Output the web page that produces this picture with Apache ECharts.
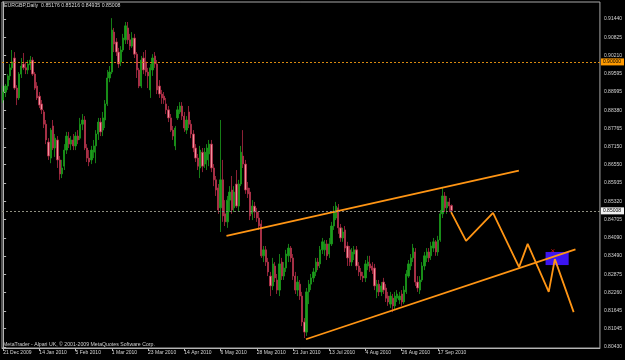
<!DOCTYPE html>
<html>
<head>
<meta charset="utf-8">
<script src="https://cdn.jsdelivr.net/npm/echarts@6.0.0/dist/echarts.min.js"></script>
<style>
  html, body { margin: 0; padding: 0; background: #000; }
  #chart { width: 625px; height: 360px; }
</style>
</head>
<body>
<div id="chart"></div>
<script>
// bottom axis labels, one every 16 bars
const dateLabels = ['21 Dec 2009', '14 Jan 2010', '5 Feb 2010', '1 Mar 2010', '23 Mar 2010', '14 Apr 2010',
  '6 May 2010', '28 May 2010', '21 Jun 2010', '13 Jul 2010', '4 Aug 2010', '26 Aug 2010', '17 Sep 2010'];

// right axis price labels
const priceTicks = [0.91440, 0.90825, 0.90210, 0.89595, 0.88995, 0.88380, 0.87765, 0.87150, 0.86550, 0.85935,
  0.85320, 0.84705, 0.84090, 0.83490, 0.82875, 0.82260, 0.81645, 0.81045, 0.80430];

// daily bars: [open, close, low, high]
const candles = [
  [.8872,.8899,.8862,.8919],[.8899,.8919,.8882,.8926],[.8919,.8953,.8906,.8959],[.8953,.8980,.8939,.8993],
  [.8980,.9000,.8973,.9040],[.9013,.8912,.8906,.9033],[.8912,.8879,.8855,.8922],[.8879,.8959,.8872,.8966],
  [.8959,.8986,.8946,.9013],[.8993,.8980,.8973,.9030],[.8980,.8973,.8959,.9000],[.8973,.8993,.8959,.9006],
  [.8990,.9006,.8973,.9020],[.9006,.8959,.8953,.9016],[.8959,.8912,.8906,.8966],[.8919,.8879,.8872,.8932],
  [.8885,.8855,.8845,.8899],[.8859,.8839,.8825,.8872],[.8832,.8791,.8778,.8839],[.8791,.8738,.8724,.8805],
  [.8731,.8684,.8671,.8744],[.8677,.8771,.8660,.8778],[.8785,.8711,.8704,.8805],[.8711,.8744,.8681,.8758],
  [.8738,.8671,.8644,.8751],[.8671,.8624,.8604,.8684],[.8624,.8644,.8610,.8671],[.8650,.8704,.8637,.8724],
  [.8704,.8751,.8691,.8765],[.8744,.8724,.8711,.8765],[.8724,.8738,.8704,.8751],[.8738,.8718,.8704,.8758],
  [.8718,.8751,.8704,.8765],[.8751,.8738,.8724,.8771],[.8744,.8791,.8738,.8812],[.8791,.8805,.8771,.8825],
  [.8805,.8711,.8704,.8818],[.8711,.8677,.8664,.8724],[.8677,.8664,.8650,.8704],[.8671,.8704,.8657,.8718],
  [.8697,.8718,.8677,.8738],[.8718,.8758,.8660,.8771],[.8758,.8798,.8738,.8812],[.8798,.8765,.8751,.8812],
  [.8771,.8812,.8751,.8832],[.8805,.8859,.8778,.8872],[.8859,.8946,.8852,.8973],[.8946,.8966,.8932,.8986],
  [.8966,.9107,.8959,.9147],[.9100,.9060,.9033,.9114],[.9067,.9033,.9020,.9080],[.9033,.8993,.8980,.9047],
  [.9000,.9040,.8986,.9053],[.9040,.9080,.9033,.9094],[.9074,.9121,.9060,.9134],[.9114,.9074,.9060,.9134],
  [.9074,.9053,.9040,.9094],[.9053,.9080,.9047,.9100],[.9080,.9026,.9013,.9094],[.9026,.8973,.8946,.9033],
  [.8973,.8919,.8912,.8980],[.8919,.9006,.8912,.9020],[.9013,.8973,.8959,.9033],[.9000,.8966,.8953,.9040],
  [.8966,.8953,.8912,.8980],[.8906,.8980,.8879,.8993],[.8973,.9013,.8953,.9026],[.9020,.8993,.8980,.9033],
  [.8993,.8906,.8892,.9006],[.8919,.8892,.8879,.8939],[.8892,.8879,.8859,.8906],[.8885,.8872,.8859,.8899],
  [.8859,.8839,.8825,.8879],[.8839,.8812,.8798,.8852],[.8812,.8771,.8765,.8825],[.8771,.8751,.8738,.8785],
  [.8718,.8778,.8704,.8785],[.8812,.8839,.8805,.8852],[.8832,.8852,.8825,.8865],[.8852,.8818,.8805,.8865],
  [.8818,.8778,.8765,.8832],[.8771,.8805,.8758,.8818],[.8832,.8791,.8778,.8852],[.8791,.8758,.8744,.8805],
  [.8758,.8711,.8697,.8771],[.8711,.8677,.8664,.8724],[.8677,.8650,.8637,.8691],[.8644,.8704,.8610,.8718],
  [.8697,.8650,.8630,.8711],[.8657,.8697,.8644,.8711],[.8671,.8711,.8637,.8724],[.8691,.8724,.8650,.8738],
  [.8724,.8644,.8630,.8738],[.8644,.8604,.8583,.8657],[.8604,.8570,.8550,.8617],[.8577,.8503,.8490,.8590],
  [.8510,.8604,.8429,.8805],[.8604,.8483,.8463,.8671],[.8490,.8463,.8449,.8536],[.8463,.8536,.8443,.8550],
  [.8536,.8563,.8496,.8583],[.8570,.8503,.8490,.8617],[.8510,.8563,.8496,.8583],[.8590,.8516,.8510,.8637],
  [.8516,.8590,.8496,.8604],[.8590,.8697,.8583,.8718],[.8684,.8657,.8644,.8771],[.8657,.8570,.8557,.8671],
  [.8577,.8557,.8543,.8597],[.8563,.8483,.8469,.8577],[.8490,.8516,.8469,.8536],[.8516,.8496,.8476,.8530],
  [.8496,.8476,.8463,.8510],[.8476,.8449,.8436,.8496],[.8456,.8349,.8342,.8469],[.8349,.8369,.8328,.8382],
  [.8369,.8328,.8315,.8382],[.8328,.8295,.8281,.8342],[.8281,.8248,.8214,.8295],[.8248,.8322,.8234,.8342],
  [.8315,.8275,.8261,.8328],[.8268,.8234,.8221,.8288],[.8234,.8322,.8214,.8355],[.8328,.8281,.8268,.8342],
  [.8281,.8308,.8268,.8328],[.8308,.8355,.8295,.8369],[.8349,.8375,.8328,.8389],[.8375,.8342,.8328,.8382],
  [.8342,.8281,.8268,.8355],[.8281,.8234,.8221,.8295],[.8234,.8261,.8214,.8281],[.8254,.8214,.8201,.8268],
  [.8214,.8127,.8113,.8228],[.8127,.8093,.8073,.8140],[.8093,.8228,.8080,.8241],[.8228,.8254,.8187,.8268],
  [.8254,.8275,.8234,.8288],[.8275,.8295,.8261,.8308],[.8295,.8328,.8281,.8342],[.8328,.8315,.8301,.8342],
  [.8322,.8369,.8308,.8382],[.8369,.8396,.8355,.8409],[.8369,.8389,.8349,.8402],[.8389,.8349,.8335,.8402],
  [.8355,.8389,.8342,.8409],[.8389,.8449,.8382,.8463],[.8449,.8496,.8436,.8516],[.8476,.8516,.8469,.8530],
  [.8510,.8443,.8423,.8523],[.8443,.8409,.8396,.8456],[.8409,.8429,.8396,.8443],[.8436,.8375,.8362,.8449],
  [.8382,.8342,.8315,.8396],[.8369,.8328,.8315,.8382],[.8328,.8362,.8315,.8375],[.8355,.8369,.8335,.8382],
  [.8369,.8315,.8301,.8382],[.8315,.8295,.8281,.8328],[.8295,.8281,.8268,.8308],[.8281,.8275,.8261,.8295],
  [.8275,.8322,.8261,.8335],[.8315,.8328,.8301,.8349],[.8322,.8308,.8295,.8349],[.8315,.8301,.8288,.8328],
  [.8308,.8248,.8234,.8322],[.8228,.8254,.8207,.8268],[.8254,.8228,.8214,.8268],[.8228,.8248,.8214,.8261],
  [.8261,.8234,.8221,.8275],[.8241,.8207,.8194,.8254],[.8214,.8194,.8181,.8228],[.8187,.8214,.8174,.8228],
  [.8207,.8181,.8160,.8221],[.8181,.8214,.8167,.8228],[.8207,.8221,.8194,.8234],[.8201,.8214,.8187,.8228],
  [.8221,.8194,.8181,.8234],[.8194,.8234,.8187,.8248],[.8228,.8288,.8221,.8301],[.8281,.8322,.8275,.8335],
  [.8315,.8342,.8301,.8355],[.8342,.8375,.8328,.8389],[.8362,.8261,.8248,.8375],[.8261,.8241,.8228,.8281],
  [.8234,.8268,.8221,.8281],[.8268,.8315,.8261,.8328],[.8315,.8349,.8301,.8362],[.8342,.8362,.8328,.8375],
  [.8362,.8342,.8328,.8375],[.8349,.8382,.8335,.8396],[.8375,.8396,.8362,.8409],[.8396,.8362,.8349,.8402],
  [.8362,.8402,.8349,.8416],[.8402,.8490,.8396,.8503],[.8490,.8550,.8476,.8577],[.8550,.8510,.8496,.8563],
  [.8510,.8530,.8490,.8550],[.8530,.8516,.8496,.8543],[.85176,.85008,.84935,.85216]
];

// chart objects drawn on top: [bar index, price]
const upperChannel = [[98.6, 0.8416], [227.7, 0.8635]];
const lowerChannel = [[133.7, 0.8069], [252.7, 0.8371]];
const projection = [[197.8, 0.8496], [204.4, 0.8399], [216.3, 0.8493], [227.8, 0.8311],
  [231.6, 0.8389], [240.9, 0.8228], [243.6, 0.8338], [251.9, 0.8160]];
const targetBox = [[239.5, 249.7, 0.8318, 0.8362]];
const arrowMark = [[242.7, 0.8366]];
const levelLine = 0.90000;
const bidLine = 0.85008;

const slotCount = 264;
const slots = Array.from({length: slotCount}, (_, i) => String(i));
const showDate = (i) => i % 16 === 0 && i / 16 < dateLabels.length;

const font = 'Liberation Sans';
const orange = '#ff9514';

const option = {
  backgroundColor: '#000',
  animation: false,
  textStyle: {fontFamily: font},
  grid: {left: 2, right: 24, top: 2, bottom: 12, show: true, borderColor: '#a8a8a8', borderWidth: 1},
  xAxis: [
    {
      type: 'category',
      data: slots,
      boundaryGap: true,
      axisLine: {lineStyle: {color: '#b4b4b4'}},
      axisTick: {show: true, alignWithLabel: true, length: 3, interval: showDate, lineStyle: {color: '#b4b4b4'}},
      axisLabel: {
        interval: showDate,
        formatter: (v, i) => dateLabels[i / 16] || '',
        align: 'left',
        margin: 2,
        color: '#d4d4d4',
        fontSize: 5,
        fontFamily: font
      },
      splitLine: {show: false}
    },
    {type: 'value', min: -0.5, max: slotCount - 0.5, show: false}
  ],
  yAxis: {
    type: 'value',
    position: 'right',
    min: 0.80396,
    max: 0.92011,
    splitLine: {show: false},
    axisLine: {show: true, lineStyle: {color: '#b4b4b4'}},
    axisTick: {show: true, length: 3, customValues: priceTicks, lineStyle: {color: '#b4b4b4'}},
    axisLabel: {
      customValues: priceTicks,
      formatter: v => v.toFixed(5),
      margin: 4,
      color: '#d4d4d4',
      fontSize: 5,
      fontFamily: font
    }
  },
  series: [
    {
      type: 'candlestick',
      xAxisIndex: 0,
      data: candles,
      barWidth: 1.8,
      itemStyle: {
        color: '#1c9c1c',
        color0: '#f4919f',
        borderColor: '#1c9c1c',
        borderColor0: '#b02a44',
        borderWidth: 0.8
      },
      markLine: {
        silent: true,
        symbol: ['none', 'none'],
        animation: false,
        data: [
          {
            yAxis: levelLine,
            lineStyle: {color: '#d88a10', type: [2, 2], width: 1},
            label: {
              position: 'end', distance: 1, formatter: levelLine.toFixed(5),
              backgroundColor: '#ff9a00', color: '#000', fontSize: 5, padding: [1, 3, 1, 2], fontFamily: font
            }
          },
          {
            yAxis: bidLine,
            lineStyle: {color: '#8e8e80', type: [2, 2], width: 1},
            label: {
              position: 'end', distance: 1, formatter: bidLine.toFixed(5),
              backgroundColor: '#f2f2f2', color: '#000', fontSize: 5, padding: [1, 3, 1, 2], fontFamily: font
            }
          }
        ]
      }
    },
    {
      type: 'custom',
      xAxisIndex: 1,
      z: 3,
      data: targetBox,
      encode: {x: [0, 1], y: [2, 3]},
      renderItem: (params, api) => {
        const p0 = api.coord([api.value(0), api.value(3)]);
        const p1 = api.coord([api.value(1), api.value(2)]);
        return {
          type: 'rect',
          shape: {x: p0[0], y: p0[1], width: p1[0] - p0[0], height: p1[1] - p0[1]},
          style: {fill: '#3c14f0'}
        };
      }
    },
    {
      type: 'line', xAxisIndex: 1, z: 4, data: upperChannel, symbol: 'none',
      lineStyle: {color: orange, width: 1.8}
    },
    {
      type: 'line', xAxisIndex: 1, z: 4, data: lowerChannel, symbol: 'none',
      lineStyle: {color: orange, width: 1.8}
    },
    {
      type: 'line', xAxisIndex: 1, z: 4, data: projection, symbol: 'none',
      lineStyle: {color: orange, width: 1.8}
    },
    {
      type: 'scatter', xAxisIndex: 1, z: 5, data: arrowMark,
      symbol: 'path://M0,0L10,10M10,0L0,10', symbolSize: 3,
      itemStyle: {color: 'transparent', borderColor: '#e01010', borderWidth: 1}
    }
  ],
  graphic: [
    {
      type: 'text', left: 4, top: 3,
      style: {text: 'EURGBP,Daily  0.85176 0.85216 0.84935 0.85008', fill: '#d8d8d8', font: '5.2px "Liberation Sans"'}
    },
    {
      type: 'text', left: 3, top: 342,
      style: {text: 'MetaTrader - Alpari UK, © 2001-2009 MetaQuotes Software Corp.', fill: '#d0d0d0', font: '5.2px "Liberation Sans"'}
    }
  ]
};

const myChart = echarts.init(document.getElementById('chart'));
myChart.setOption(option);
</script>
</body>
</html>
